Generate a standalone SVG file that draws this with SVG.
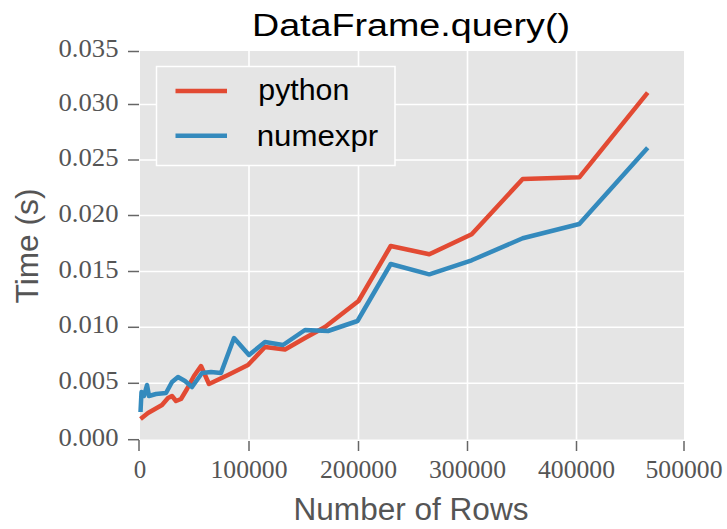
<svg xmlns="http://www.w3.org/2000/svg" width="727" height="529" viewBox="0 0 727 529">
<style>
.grid{stroke:#ffffff;stroke-width:1.6;fill:none}
.tick{stroke:#666666;stroke-width:1.5;fill:none}
.tl{font-family:"Liberation Serif","DejaVu Serif",serif;font-size:25px;fill:#555555}
.lab{font-family:"Liberation Sans",Arial,sans-serif;font-size:31px;fill:#555555}
.leg{font-family:"Liberation Sans",Arial,sans-serif;font-size:29px;fill:#000000}
.series{fill:none;stroke-width:4.5;stroke-linejoin:round;stroke-linecap:butt}
</style>
<rect width="727" height="529" fill="#ffffff"/>
<g id="plot-area">
<rect x="140" y="51" width="544" height="388.5" fill="#E5E5E5"/>
<g id="gridlines">
<line class="grid" x1="249" y1="51" x2="249" y2="439.5"/>
<line class="grid" x1="358.5" y1="51" x2="358.5" y2="439.5"/>
<line class="grid" x1="467.5" y1="51" x2="467.5" y2="439.5"/>
<line class="grid" x1="576.5" y1="51" x2="576.5" y2="439.5"/>
<line class="grid" x1="140" y1="104.5" x2="684" y2="104.5"/>
<line class="grid" x1="140" y1="160" x2="684" y2="160"/>
<line class="grid" x1="140" y1="215.5" x2="684" y2="215.5"/>
<line class="grid" x1="140" y1="271.5" x2="684" y2="271.5"/>
<line class="grid" x1="140" y1="327.3" x2="684" y2="327.3"/>
<line class="grid" x1="140" y1="383.3" x2="684" y2="383.3"/>
</g>
</g>
<g id="axes">
<g id="y-ticks">
<line class="tick" x1="128" y1="51.5" x2="139" y2="51.5"/>
<line class="tick" x1="128" y1="104.5" x2="139" y2="104.5"/>
<line class="tick" x1="128" y1="160" x2="139" y2="160"/>
<line class="tick" x1="128" y1="215.5" x2="139" y2="215.5"/>
<line class="tick" x1="128" y1="271.5" x2="139" y2="271.5"/>
<line class="tick" x1="128" y1="327.3" x2="139" y2="327.3"/>
<line class="tick" x1="128" y1="383.3" x2="139" y2="383.3"/>
<line class="tick" x1="128" y1="439.7" x2="139" y2="439.7"/>
<text class="tl" x="118.5" y="57" text-anchor="end" textLength="60" lengthAdjust="spacingAndGlyphs">0.035</text>
<text class="tl" x="118.5" y="110.5" text-anchor="end" textLength="60" lengthAdjust="spacingAndGlyphs">0.030</text>
<text class="tl" x="118.5" y="166" text-anchor="end" textLength="60" lengthAdjust="spacingAndGlyphs">0.025</text>
<text class="tl" x="118.5" y="221.5" text-anchor="end" textLength="60" lengthAdjust="spacingAndGlyphs">0.020</text>
<text class="tl" x="118.5" y="277.5" text-anchor="end" textLength="60" lengthAdjust="spacingAndGlyphs">0.015</text>
<text class="tl" x="118.5" y="333.3" text-anchor="end" textLength="60" lengthAdjust="spacingAndGlyphs">0.010</text>
<text class="tl" x="118.5" y="389.3" text-anchor="end" textLength="60" lengthAdjust="spacingAndGlyphs">0.005</text>
<text class="tl" x="118.5" y="445.5" text-anchor="end" textLength="60" lengthAdjust="spacingAndGlyphs">0.000</text>
</g>
<g id="x-ticks">
<line class="tick" x1="139" y1="440" x2="139" y2="451"/>
<line class="tick" x1="249" y1="441" x2="249" y2="451"/>
<line class="tick" x1="358.5" y1="441" x2="358.5" y2="451"/>
<line class="tick" x1="467.5" y1="441" x2="467.5" y2="451"/>
<line class="tick" x1="576.5" y1="441" x2="576.5" y2="451"/>
<line class="tick" x1="684" y1="441" x2="684" y2="451"/>
<text class="tl" x="140" y="477.5" text-anchor="middle">0</text>
<text class="tl" x="249" y="477.5" text-anchor="middle" textLength="77" lengthAdjust="spacingAndGlyphs">100000</text>
<text class="tl" x="358.5" y="477.5" text-anchor="middle" textLength="77" lengthAdjust="spacingAndGlyphs">200000</text>
<text class="tl" x="467.5" y="477.5" text-anchor="middle" textLength="77" lengthAdjust="spacingAndGlyphs">300000</text>
<text class="tl" x="576.5" y="477.5" text-anchor="middle" textLength="77" lengthAdjust="spacingAndGlyphs">400000</text>
<text class="tl" x="684" y="477.5" text-anchor="middle" textLength="77" lengthAdjust="spacingAndGlyphs">500000</text>
</g>
<text id="x-label" class="lab" x="411" y="520" text-anchor="middle" textLength="235" lengthAdjust="spacingAndGlyphs">Number of Rows</text>
<text id="y-label" class="lab" x="0" y="0" text-anchor="middle" textLength="115" lengthAdjust="spacingAndGlyphs" transform="translate(38,246) rotate(-90)">Time (s)</text>
<text id="title" x="411" y="36" text-anchor="middle" font-family="'Liberation Sans',Arial,sans-serif" font-size="31" fill="#000000" textLength="318" lengthAdjust="spacingAndGlyphs">DataFrame.query()</text>
</g>
<g id="connectors">
<polyline id="python-line" class="series" stroke="#E24A33" points="140.5,419 148,413 155,409 162,405 168,398 172,396 176,401 181,399 187,389 194,376 201,366 209,384 228,375 248,365 265,347 285,349.5 305,338 325,327 358.5,301 390.7,246 429.3,254.3 471.7,234.3 522.7,179 579.3,177.3 647.7,92.7"/>
<polyline id="numexpr-line" class="series" stroke="#348ABD" points="140.5,412 141.5,392 144,396 147,385 149,396 156,394 166,393 172,382 178,377 185,381 192,387 202,373 211,372 221,373 234,338 249,355 265,342 283,345 305,330 328,331 357.5,321 390.7,264 429.3,274.3 471.7,260.3 522.7,238.3 579.3,224 647.7,147.7"/>
</g>
<g id="legend">
<rect x="156.5" y="66.5" width="238.5" height="99" fill="#E5E5E5" stroke="#ffffff" stroke-width="1.5"/>
<line x1="175.5" y1="91" x2="227" y2="91" stroke="#E24A33" stroke-width="4.5"/>
<line x1="175.5" y1="135.7" x2="227" y2="135.7" stroke="#348ABD" stroke-width="4.5"/>
<text class="leg" x="258.3" y="99.5" textLength="91" lengthAdjust="spacingAndGlyphs">python</text>
<text class="leg" x="256.7" y="145.5" textLength="121.5" lengthAdjust="spacingAndGlyphs">numexpr</text>
</g>
</svg>
